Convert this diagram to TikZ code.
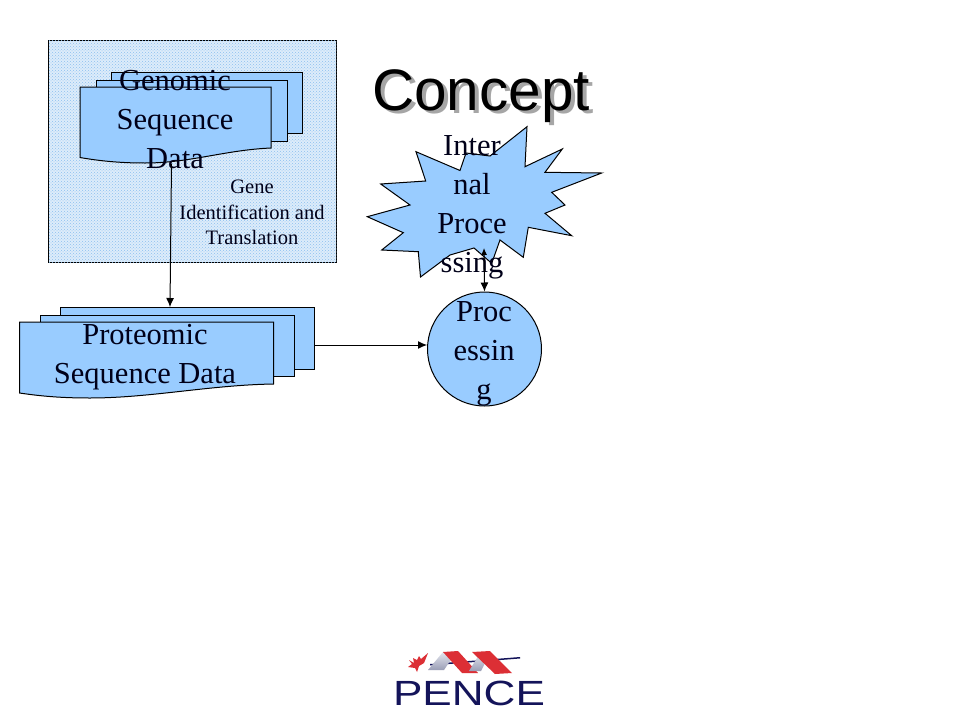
\documentclass[tikz,border=0pt]{standalone}
\usepackage{fontspec}
\setmainfont{Liberation Serif}
\newfontfamily\titlefont{Liberation Sans}
\usetikzlibrary{arrows.meta,patterns}
\definecolor{shapeblue}{HTML}{99CCFF}
\definecolor{hatchbg}{HTML}{DDECFA}
\definecolor{hatchblue}{HTML}{8CC0F0}
\definecolor{navy}{HTML}{14145A}
\definecolor{ribbonred}{HTML}{DC2F35}
\definecolor{ribbonpale}{HTML}{F0A0A0}
\definecolor{ribbongrey}{HTML}{9A9EB6}
\definecolor{ribbonlight}{HTML}{E4E6EE}
\tikzset{
  x=1pt,y=-1pt,
  shapeline/.style={draw=black,fill=shapeblue,line width=1pt,line join=miter},
  doc/.style={shapeline},
  label/.style={font=\fontsize{30.5}{39}\selectfont,align=center,text=black!90!blue,inner sep=0pt},
  small/.style={font=\fontsize{20.5}{25.5}\selectfont,align=center,text=black!90!blue,inner sep=0pt},
  conn/.style={draw=black,line width=1pt,-{Latex[length=9pt,width=8pt]}},
}
\begin{document}
\begin{tikzpicture}
\useasboundingbox (0,0) rectangle (960,720);
\fill[white] (0,0) rectangle (960,720);
% backdrop
\node[draw=black,fill=hatchbg,postaction={pattern=crosshatch dots,pattern color=hatchblue},line width=1pt,minimum width=288pt,minimum height=222pt,inner sep=0pt] (backdrop) at (192.5,151.5) {};
% genomic stack
\draw[doc] (111.5,72.5) rectangle (302,133.5);
\draw[doc] (96,80) rectangle (287,141);
\draw[doc] (80,87) -- (271,87) -- (271,148) .. controls (225,150) and (190,163) .. (145,163) .. controls (120,163) and (100,161) .. (80,157.5) -- cycle;
\coordinate (gsource) at (171.5,164);
\node[label] (genomic) at (175,120) {Genomic\\Sequence\\Data};
\node[small] (gene) at (252,212.5) {Gene\\Identification and\\Translation};
% proteomic stack
\draw[doc] (60,307) rectangle (314,369);
\draw[doc] (40,315) rectangle (294,376);
\draw[doc] (19.5,322) -- (273.5,322) -- (273.5,384) .. controls (210,385) and (150,398) .. (90,398) .. controls (60,398) and (40,396) .. (19.5,393) -- cycle;
\coordinate (ptarget) at (170,307);
\coordinate (pout) at (314,345);
\node[label] (proteomic) at (145,357) {Proteomic\\Sequence Data};
% processing
\node[circle,shapeline,minimum size=114pt,inner sep=0pt] (proc) at (484.5,349) {};
\node[label] (proctext) at (484,354) {Proc\\essin\\g};
% burst
\draw[shapeline] (527,126.7) -- (525,166.7) -- (562.3,149) -- (545,172.3) -- (601.7,173) -- (551.7,192.3) -- (565,205) -- (545,213.3) -- (571.7,235.7) -- (528.3,227.3) -- (523.3,257.3) -- (500,240) -- (491.7,263.3) -- (474,248) -- (450,255) -- (420.5,277) -- (418.3,251.7) -- (381.7,250) -- (403.3,232.7) -- (367.3,216.7) -- (410,205) -- (380.7,184) -- (425.7,181) -- (416,151.7) -- (460,170.5) -- (466,153) -- (490,156) -- cycle;
\coordinate (bburst) at (484,248);
\node[label] (bursttext) at (472,207) {Inter\\nal\\Proce\\ssing};
% connectors
\draw[conn] (gsource) -- (ptarget);
\draw[conn] (pout) -- (pout -| proc.west);
\draw[conn,{Latex[length=7pt,width=6pt]}-{Latex[length=9pt,width=8pt]}] (bburst) -- (proc.north);
% title
\node[font=\fontsize{58.5}{60}\titlefont,text=black!35,inner sep=0pt] (titleshadow) at (485,99) {Concept};
\node[font=\fontsize{58.5}{60}\titlefont,text=black,inner sep=0pt] (title) at (481,96) {Concept};
% logo
\fill[ribbonred] (409,660) -- (414,663) -- (413,658) -- (417,660) -- (419,656) -- (421,659) -- (428,653) -- (424,663) -- (419,666) -- (417,672) -- (415,668) -- (408,667) -- (412,664) -- cycle;
\fill[navy] (430,664) -- (520,657) -- (520,658.5) -- (430,665.5) -- cycle;
\shade[top color=ribbonlight,bottom color=ribbongrey] (428,670) -- (443,652) -- (456,652) -- (444,670) -- cycle;
\shade[left color=ribbonred,middle color=ribbonpale,right color=ribbonred] (443,652) -- (458,651) -- (478,673) -- (462,673) -- cycle;
\shade[top color=ribbonlight,bottom color=ribbongrey] (469,671) -- (480,653) -- (490,653) -- (481,671) -- cycle;
\shade[left color=ribbonred,middle color=ribbonpale,right color=ribbonred] (472,652) -- (490,651) -- (512,673) -- (495,674) -- cycle;
\node[font=\fontsize{35}{38}\titlefont,text=navy,inner sep=0pt,xscale=1.26] (pence) at (469,693.5) {PENCE};
\end{tikzpicture}
\end{document}
